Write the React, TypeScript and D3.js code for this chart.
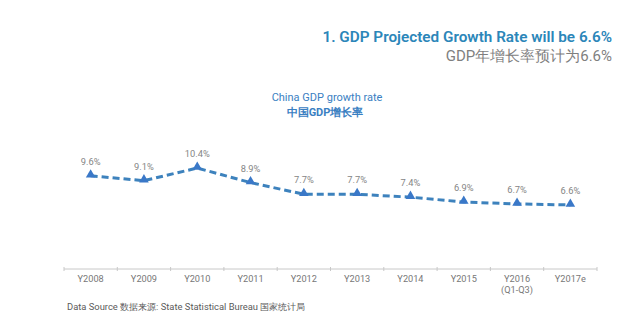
import React from "react";
import * as d3 from "d3";

const categories = ["Y2008", "Y2009", "Y2010", "Y2011", "Y2012", "Y2013", "Y2014", "Y2015", "Y2016", "Y2017e"];
const subLabels = ["", "", "", "", "", "", "", "", "(Q1-Q3)", ""];
const growth = [9.6, 9.1, 10.4, 8.9, 7.7, 7.7, 7.4, 6.9, 6.7, 6.6];
const valueLabels = ["9.6%", "9.1%", "10.4%", "8.9%", "7.7%", "7.7%", "7.4%", "6.9%", "6.7%", "6.6%"];

const W = 640;
const H = 331;
const FONT = "Roboto, 'Liberation Sans', sans-serif";

export default function App() {
  const x = d3.scaleBand<string>().domain(categories).range([64, 597]).padding(0);
  const y = d3.scaleLinear().domain([0, 12]).range([269, 152.5]);
  const cx = (c: string) => (x(c) as number) + x.bandwidth() / 2;

  const line = d3
    .line<number>()
    .x((_, i) => cx(categories[i]))
    .y((d) => y(d));

  const tri = d3.symbol().type(d3.symbolTriangle).size(40)();

  const tickXs = [...categories.map((c) => x(c) as number), 597];

  return (
    <svg
      width={W}
      height={H}
      style={{ position: "fixed", left: 0, top: 0, background: "#ffffff" }}
      fontFamily={FONT}
    >
      <rect x={0} y={0} width={W} height={H} fill="#ffffff" />
      {/* Header */}
      <text x={612} y={42} textAnchor="end" fontSize={15.3} fontWeight={600} fill="#2b86b9">
        1. GDP Projected Growth Rate will be 6.6%
      </text>
      <text x={612} y={61} textAnchor="end" fontSize={15} fill="#7f7f7f">
        GDP年增长率预计为6.6%
      </text>

      {/* Chart title */}
      <text x={327} y={101} textAnchor="middle" fontSize={11} fill="#3a80c2">
        China GDP growth rate
      </text>
      <text x={325} y={116} textAnchor="middle" fontSize={11} fontWeight={700} fill="#3a80c2">
        中国GDP增长率
      </text>

      {/* Axis */}
      <line x1={64} x2={597} y1={y(0)} y2={y(0)} stroke="#c8c8c8" strokeWidth={1} />
      {tickXs.map((tx, i) => (
        <line key={i} x1={tx} x2={tx} y1={y(0) - 2} y2={y(0) + 2} stroke="#c8c8c8" strokeWidth={1} />
      ))}
      {categories.map((c, i) => (
        <g key={c}>
          <text x={cx(c)} y={282} textAnchor="middle" fontSize={9.2} fill="#777777">
            {c}
          </text>
          {subLabels[i] && (
            <text x={cx(c)} y={293} textAnchor="middle" fontSize={9.2} fill="#777777">
              {subLabels[i]}
            </text>
          )}
        </g>
      ))}

      {/* Line */}
      <path
        d={line(growth) || ""}
        fill="none"
        stroke="#3d82bd"
        strokeWidth={3}
        strokeDasharray="7,4"
      />
      {growth.map((v, i) => (
        <g key={i}>
          <path d={tri || ""} transform={`translate(${cx(categories[i])},${y(v) - 1})`} fill="#3a78c8" />
          <text x={cx(categories[i])} y={y(v) - 11} textAnchor="middle" fontSize={9.3} fill="#858585">
            {valueLabels[i]}
          </text>
        </g>
      ))}

      {/* Footer */}
      <text x={67} y={310} fontSize={9.4} fill="#5a5a5a">
        Data Source 数据来源: State Statistical Bureau 国家统计局
      </text>
    </svg>
  );
}
